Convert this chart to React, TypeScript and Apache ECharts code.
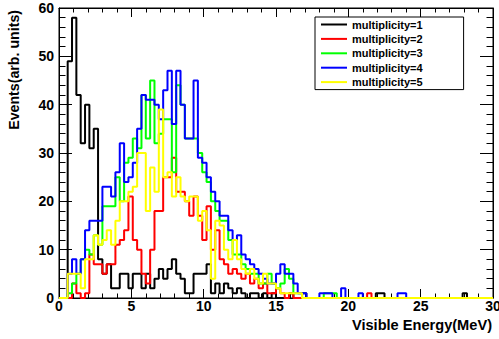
import React, { useEffect, useRef } from "react";
import * as echarts from "echarts";

// Histogram: 100 bins of 0.3 MeV from 0 to 30 MeV
const BIN_WIDTH = 0.3;
const X_MAX = 30;

const seriesNames = [
  "multiplicity=1",
  "multiplicity=2",
  "multiplicity=3",
  "multiplicity=4",
  "multiplicity=5",
];
const seriesColors = ["#000000", "#ff0000", "#00ff00", "#0000ff", "#ffff00"];

const mult1 = [
  0, 0, 49, 58, 42, 32, 40, 31, 35, 8,
  5, 7, 2, 2, 5, 5, 2, 5, 5, 2,
  5, 2, 4, 6, 4, 6, 8, 5, 4, 1,
  1, 5, 5, 5, 7, 1, 3, 1, 3, 2,
  1, 2, 1, 0, 1, 1, 0, 1, 0, 1,
  0, 0, 0, 1, 0, 0, 1, 0, 0, 0,
  0, 0, 0, 0, 0, 0, 0, 0, 0, 0,
  0, 0, 0, 1, 1, 0, 0, 0, 0, 0,
  0, 0, 0, 0, 0, 0, 0, 0, 0, 0,
  0, 0, 0, 1, 0, 0, 0, 0, 0, 0,
];
const mult2 = [
  0, 0, 0, 3, 1, 0, 1, 9, 7, 7,
  5, 7, 7, 11, 12, 14, 21, 12, 10, 5,
  3, 10, 18, 18, 25, 25, 29, 22, 22, 20,
  17, 21, 17, 12, 19, 10, 14, 8, 7, 5,
  6, 5, 4, 5, 3, 4, 2, 3, 1, 1,
  2, 1, 0, 1, 0, 0, 0, 0, 0, 0,
  0, 0, 0, 0, 0, 0, 0, 0, 0, 0,
  0, 1, 0, 0, 0, 0, 0, 0, 0, 0,
  0, 0, 0, 0, 0, 0, 0, 0, 0, 0,
  0, 0, 0, 0, 0, 0, 0, 0, 0, 0,
];
const mult3 = [
  0, 0, 1, 3, 5, 8, 10, 9, 13, 11,
  19, 19, 19, 25, 20, 28, 29, 33, 31, 42,
  33, 45, 32, 34, 37, 37, 26, 44, 40, 33,
  33, 33, 30, 26, 24, 20, 18, 16, 16, 12,
  9, 9, 7, 6, 5, 5, 3, 3, 5, 3,
  2, 3, 6, 4, 1, 1, 0, 0, 0, 0,
  0, 1, 1, 1, 0, 0, 0, 0, 0, 0,
  0, 0, 0, 0, 0, 0, 0, 0, 0, 0,
  0, 0, 0, 0, 0, 0, 0, 0, 0, 0,
  0, 0, 0, 0, 0, 0, 0, 0, 0, 0,
];
const mult4 = [
  0, 0, 5, 8, 5, 8, 14, 16, 16, 16,
  23, 23, 21, 26, 32, 24, 25, 28, 35, 42,
  41, 41, 40, 37, 43, 47, 36, 47, 40, 33,
  33, 45, 29, 28, 25, 22, 20, 17, 17, 14,
  12, 13, 9, 8, 7, 6, 5, 4, 3, 3,
  5, 7, 5, 5, 3, 1, 1, 0, 0, 0,
  1, 1, 1, 0, 0, 2, 0, 0, 0, 1,
  0, 0, 0, 0, 0, 0, 0, 0, 1, 1,
  0, 0, 0, 0, 0, 0, 0, 0, 0, 0,
  0, 0, 0, 0, 0, 0, 0, 0, 0, 0,
];
const mult5 = [
  0, 0, 5, 5, 5, 2, 8, 8, 13, 11,
  12, 14, 11, 16, 20, 20, 22, 23, 30, 30,
  18, 27, 22, 39, 25, 26, 21, 25, 21, 20,
  21, 21, 16, 18, 14, 4, 16, 15, 10, 8,
  12, 8, 6, 5, 6, 4, 3, 5, 3, 3,
  2, 1, 1, 1, 1, 1, 0, 0, 0, 0,
  0, 0, 0, 0, 0, 0, 0, 0, 0, 0,
  0, 0, 0, 0, 0, 0, 0, 0, 0, 0,
  0, 0, 0, 0, 0, 0, 0, 0, 0, 0,
  0, 0, 0, 0, 0, 0, 0, 0, 0, 0,
];
const allSeries = [mult1, mult2, mult3, mult4, mult5];

const xTitle = "Visible Energy(MeV)";
const yTitle = "Events(arb. units)";

const FONT = "Liberation Sans, Arial, Helvetica, sans-serif";

// points at the left edge of each bin; "end" step keeps the bin content until the next edge
function toSteps(vals: number[]) {
  const pts: [number, number][] = vals.map((v, i) => [i * BIN_WIDTH, v]);
  pts.push([X_MAX, vals[vals.length - 1]]);
  return pts;
}

export default function App() {
  const ref = useRef<HTMLDivElement>(null);
  useEffect(() => {
    if (!ref.current) return;
    const chart = echarts.init(ref.current, null, { renderer: "svg" });
    const tickStyle = { color: "#000", width: 1 };
    const xCommon = {
      type: "value" as const,
      min: 0,
      max: X_MAX,
      interval: 5,
      axisLine: { show: true, onZero: false, lineStyle: tickStyle },
      axisTick: { show: true, inside: true, length: 9, lineStyle: tickStyle },
      minorTick: { show: true, splitNumber: 5, length: 4.5, lineStyle: tickStyle },
      splitLine: { show: false },
    };
    const yCommon = {
      type: "value" as const,
      min: 0,
      max: 60,
      interval: 10,
      axisLine: { show: true, onZero: false, lineStyle: tickStyle },
      axisTick: { show: true, inside: true, length: 13, lineStyle: tickStyle },
      minorTick: { show: true, splitNumber: 5, length: 6.5, lineStyle: tickStyle },
      splitLine: { show: false },
    };
    const labelStyle = {
      color: "#000",
      fontFamily: FONT,
      fontWeight: "bold" as const,
      fontSize: 14,
    };
    chart.setOption({
      animation: false,
      grid: {
        left: 59,
        right: 6,
        top: 8,
        bottom: 41,
        show: true,
        borderColor: "#000",
        borderWidth: 1,
        backgroundColor: "transparent",
        outerBoundsMode: "none",
      },
      xAxis: [
        { ...xCommon, position: "bottom", axisLabel: { ...labelStyle, margin: 1 } },
        { ...xCommon, position: "top", axisLabel: { show: false } },
      ],
      yAxis: [
        { ...yCommon, position: "left", axisLabel: { ...labelStyle, margin: 5 } },
        { ...yCommon, position: "right", axisLabel: { show: false } },
      ],
      legend: {
        orient: "vertical",
        left: 315,
        top: 17,
        padding: [2, 41, 2, 6],
        itemGap: 3.4,
        itemWidth: 26,
        itemHeight: 2,
        itemTextGap: 6,
        icon: "rect",
        backgroundColor: "#ffffff",
        borderColor: "#000",
        borderWidth: 1,
        borderRadius: 0,
        data: seriesNames,
        textStyle: { color: "#000", fontFamily: FONT, fontWeight: "bold", fontSize: 11 },
      },
      graphic: [
        {
          type: "text",
          x: 492,
          y: 325,
          style: {
            text: xTitle,
            fill: "#000",
            font: `bold 14.6px ${FONT}`,
            textAlign: "right",
            textVerticalAlign: "middle",
          },
        },
        {
          type: "text",
          x: 14,
          y: 10,
          rotation: Math.PI / 2,
          style: {
            text: yTitle,
            fill: "#000",
            font: `bold 14.2px ${FONT}`,
            textAlign: "right",
            textVerticalAlign: "middle",
          },
        },
      ],
      series: allSeries.map((vals, i) => ({
        name: seriesNames[i],
        type: "line",
        step: "end",
        symbol: "none",
        color: seriesColors[i],
        lineStyle: { color: seriesColors[i], width: 2 },
        xAxisIndex: 0,
        yAxisIndex: 0,
        data: toSteps(vals),
      })),
    });
    return () => chart.dispose();
  }, []);
  return <div ref={ref} style={{ width: 499, height: 339, position: "absolute", left: 0, top: 0 }} />;
}
